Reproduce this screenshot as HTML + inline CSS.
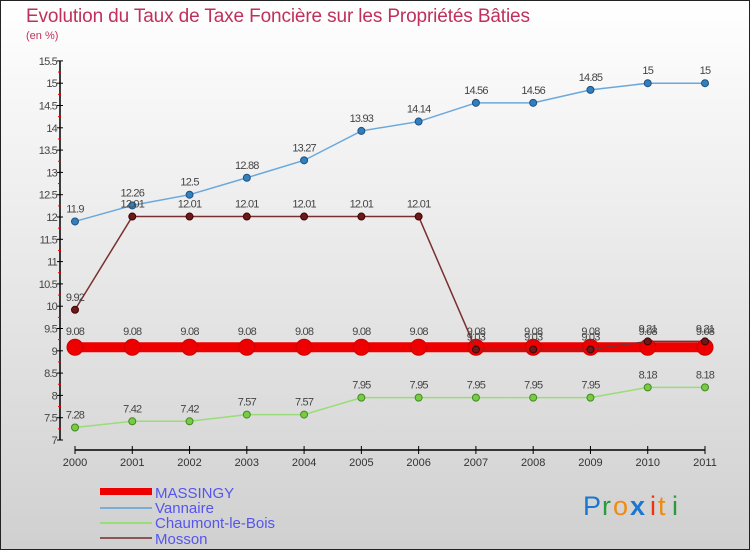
<!DOCTYPE html>
<html><head><meta charset="utf-8"><style>
body{margin:0;width:750px;height:550px;overflow:hidden;font-family:"Liberation Sans",sans-serif}
</style></head><body>
<svg width="750" height="550" xmlns="http://www.w3.org/2000/svg">
<defs><linearGradient id="bg" x1="0" y1="0" x2="0" y2="1"><stop offset="0" stop-color="#ffffff"/><stop offset="1" stop-color="#d0d0d0"/></linearGradient></defs>
<rect x="0.5" y="0.5" width="749" height="549" fill="url(#bg)" stroke="#222"/>
<text x="26" y="22" font-size="19" fill="#c0305a" textLength="504">Evolution du Taux de Taxe Foncière sur les Propriétés Bâties</text>
<text x="26" y="39" font-size="11" fill="#c0305a">(en %)</text>
<g id="axes"></g>
<g id="series"></g>
<g id="legend" font-size="15" fill="#5555ee">
<rect x="100" y="488" width="52" height="7" fill="#ee0000"/>
<text x="155" y="498">MASSINGY</text>
<line x1="100" y1="508" x2="152" y2="508" stroke="#7aaed8" stroke-width="2"/>
<text x="155" y="513">Vannaire</text>
<line x1="100" y1="523" x2="152" y2="523" stroke="#99dd77" stroke-width="2"/>
<text x="155" y="528">Chaumont-le-Bois</text>
<line x1="100" y1="538" x2="152" y2="538" stroke="#8b5555" stroke-width="2"/>
<text x="155" y="544">Mosson</text>
</g>
<g font-size="27" font-family="'Liberation Sans',sans-serif">
<text x="583" y="515" fill="#1a78d0">P</text><text x="602" y="515" fill="#2a9a3a">r</text><text x="613" y="515" fill="#f08a10">o</text><text x="630" y="515" fill="#1a78d0" font-weight="bold">x</text><text x="650" y="515" fill="#ee3311">i</text><text x="658" y="515" fill="#f08a10">t</text><text x="672" y="515" fill="#2a9a3a">i</text>
</g>
</svg>
<script>
const years=["2000","2001","2002","2003","2004","2005","2006","2007","2008","2009","2010","2011"];
const yTicks=[7,7.5,8,8.5,9,9.5,10,10.5,11,11.5,12,12.5,13,13.5,14,14.5,15,15.5];
const massingy=[9.08,9.08,9.08,9.08,9.08,9.08,9.08,9.08,9.08,9.08,9.08,9.08];
const vannaire=[11.9,12.26,12.5,12.88,13.27,13.93,14.14,14.56,14.56,14.85,15,15];
const chaumont=[7.28,7.42,7.42,7.57,7.57,7.95,7.95,7.95,7.95,7.95,8.18,8.18];
const mosson=[9.92,12.01,12.01,12.01,12.01,12.01,12.01,9.03,9.03,9.03,9.21,9.21];
const NS="http://www.w3.org/2000/svg";
const X=i=>75+i*(630/11);
const Y=v=>440-(v-7)*44.6;
function mk(t,a,p){const e=document.createElementNS(NS,t);for(const k in a)e.setAttribute(k,a[k]);p.appendChild(e);return e;}
const ax=document.getElementById('axes');
const yl=mk('line',{x1:60,y1:Y(15.5),x2:60,y2:Y(7),stroke:'#000','stroke-width':1.5},ax);


yTicks.forEach(v=>{
 mk('line',{x1:57,y1:Y(v),x2:63,y2:Y(v),stroke:'#000'},ax);
 if(v<15.5) mk('line',{x1:58,y1:Y(v+0.25),x2:61,y2:Y(v+0.25),stroke:'#e00'},ax);
 const t=mk('text',{x:57,y:Y(v)+4,'text-anchor':'end','font-size':11,fill:'#444','letter-spacing':'-0.8'},ax);
 t.textContent=String(v);
 
 
});
const xl=mk('line',{x1:X(0),y1:450,x2:X(11),y2:450,stroke:'#000','stroke-width':1.5},ax);


years.forEach((y,i)=>{
 mk('line',{x1:X(i),y1:446,x2:X(i),y2:454,stroke:'#000'},ax);
 const t=mk('text',{x:X(i),y:466,'text-anchor':'middle','font-size':11,fill:'#333'},ax);
 t.textContent=y;
 
 
});
const sg=document.getElementById('series');
function series(name,data,color,w,r,dot,stroke){
 const g=mk('g',{},sg);
 
 
 const pl=mk('polyline',{points:data.map((v,i)=>X(i)+','+Y(v)).join(' '),fill:'none',stroke:color,'stroke-width':w},g);
 
 
 data.forEach((v,i)=>{
  const c=mk('circle',{cx:X(i),cy:Y(v),r:r,fill:dot,stroke:stroke,'stroke-width':1},g);
  
  
  const t=mk('text',{x:X(i),y:Y(v)-9-(r>5?3:0),'text-anchor':'middle','font-size':11,fill:'#444','letter-spacing':'-0.8'},g);
  t.textContent=String(v);
  
  
 });
}
series('massingy',massingy,'#ee0000',10,8,'#ee0000','#cc0000');
series('vannaire',vannaire,'#6aa8dc',1.5,3.5,'#3080c0','#205080');
series('chaumont',chaumont,'#99dd77',1.5,3.5,'#77cc44','#448822');
series('mosson',mosson,'#7a3030',1.5,3.5,'#6a1a1a','#400');
</script>
</body></html>
